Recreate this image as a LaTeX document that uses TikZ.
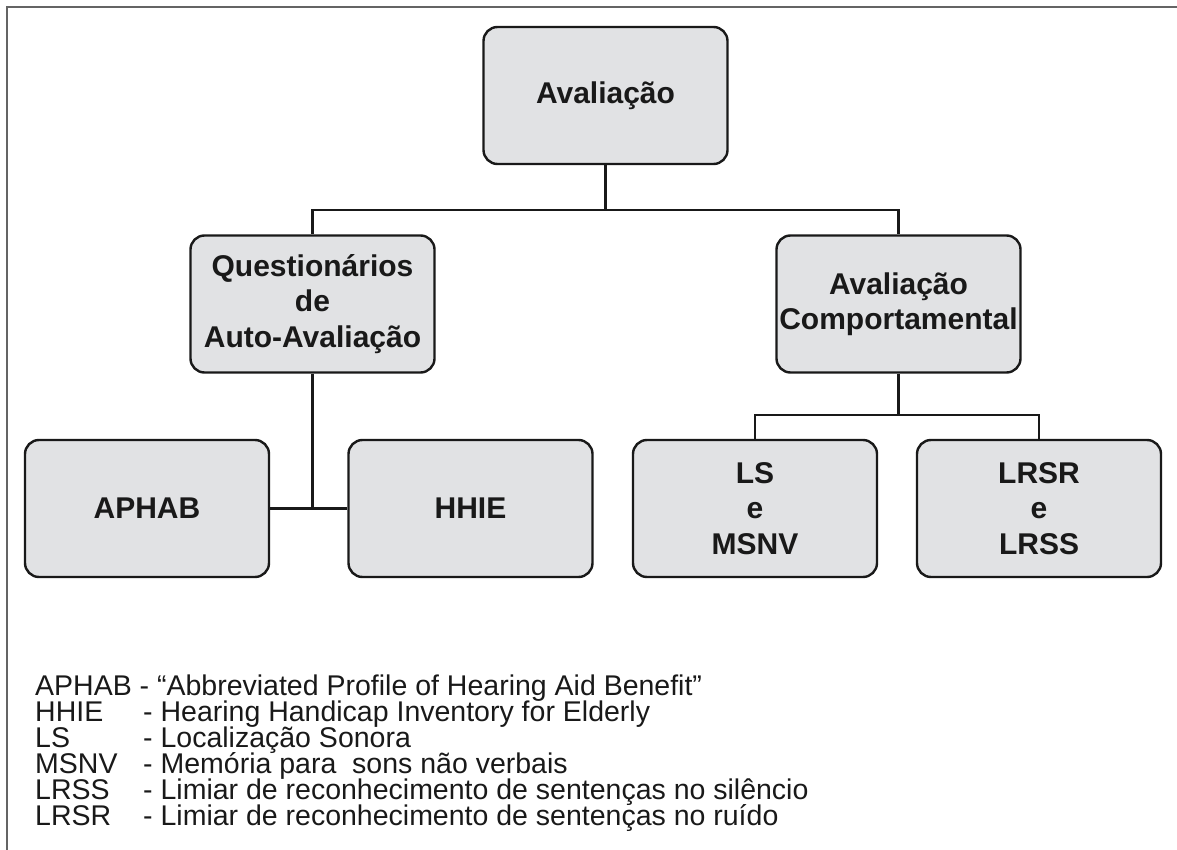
\documentclass[tikz,border=0pt]{standalone}
\usepackage{fontspec}
\setmainfont{Liberation Sans}
\usepackage{tikz}
\usepackage{xcolor}
\definecolor{boxgray}{RGB}{225,226,228}
\definecolor{framegray}{RGB}{100,100,100}
\definecolor{inkblack}{RGB}{25,25,25}

\begin{document}
\begin{tikzpicture}[x=1pt, y=-1pt,
    box/.style={draw=inkblack, line width=2.4pt, fill=boxgray, rounded corners=14pt,
        minimum width=244pt, minimum height=137pt, align=center, inner sep=0pt,
        text=inkblack, font=\fontsize{30}{35.5}\selectfont\bfseries},
    link/.style={draw=inkblack, line width=2.2pt},
    legend/.style={anchor=west, inner sep=0pt, text=inkblack, text height=21pt, text depth=6pt,
        font=\fontsize{28.5}{28.5}\selectfont}]
    \useasboundingbox (0,0) rectangle (1177,850);
    % Frame
    \draw[framegray, line width=2.6pt] (7,852) -- (7,7) -- (1180,7);

    % Top level
    \node[box] (aval) at (605.5,95.5) {Avaliação};
    % Second level
    \node[box] (quest) at (312.5,304) {Questionários\\de\\Auto-Avaliação};
    \node[box] (comp) at (898.5,304) {Avaliação\\Comportamental};
    % Third level
    \node[box] (aphab) at (147,508.5) {APHAB};
    \node[box] (hhie) at (470.5,508.5) {HHIE};
    \node[box] (lsm) at (755,508.5) {LS\\e\\MSNV};
    \node[box] (lrs) at (1039,508.5) {LRSR\\e\\LRSS};

    % Connectors
    \coordinate (top split) at (605.5,210);
    \coordinate (comp split) at (898.5,415);
    \draw[link] (aval) -- (top split);
    \draw[link] (top split) -| (quest.north);
    \draw[link] (top split) -| (comp.north);
    \draw[link] (aphab.east) -- (hhie.west);
    \draw[link] (quest.south) -- (quest.south |- aphab.east);
    \draw[link] (comp) -- (comp split);
    \draw[link] (comp split) -| (lsm.north);
    \draw[link] (comp split) -| (lrs.north);

    % Legend
    \node[legend] (k1) at (35,688) {APHAB - “Abbreviated Profile of Hearing Aid Benefit”};
    \node[legend] (k2) at (35,714) {HHIE};
    \node[legend] (d2) at (143,714) {- Hearing Handicap Inventory for Elderly};
    \node[legend] (k3) at (35,740) {LS};
    \node[legend] (d3) at (143,740) {- Localização Sonora};
    \node[legend] (k4) at (35,766) {MSNV};
    \node[legend] (d4) at (143,766) {- Memória para\ \ sons não verbais};
    \node[legend] (k5) at (35,792) {LRSS};
    \node[legend] (d5) at (143,792) {- Limiar de reconhecimento de sentenças no silêncio};
    \node[legend] (k6) at (35,818) {LRSR};
    \node[legend] (d6) at (143,818) {- Limiar de reconhecimento de sentenças no ruído};
\end{tikzpicture}
\end{document}
